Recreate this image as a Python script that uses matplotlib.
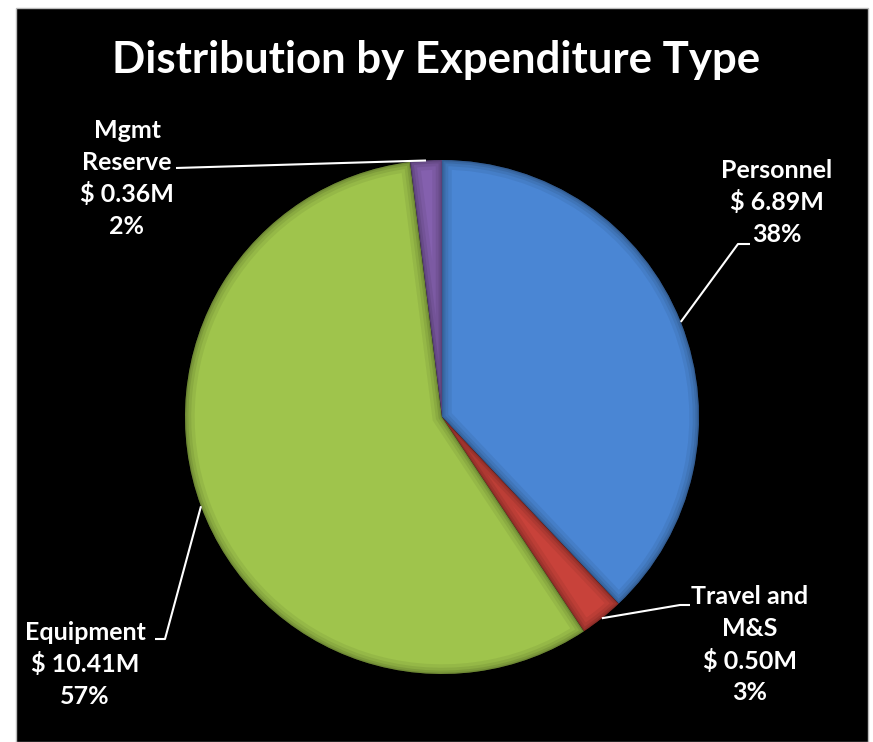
import numpy as np
import matplotlib.pyplot as plt
from matplotlib.patches import Rectangle, Wedge

# expenditure split, in $ millions
categories = ["Personnel", "Travel and\nM&S", "Equipment", "Mgmt\nReserve"]
amounts = [6.89, 0.50, 10.41, 0.36]
percents = ["38%", "3%", "57%", "2%"]
colors = ["#4a86d4", "#c8423a", "#9fc44c", "#8460ae"]

W, H = 873, 742
fig = plt.figure(figsize=(W / 100, H / 100), dpi=100, facecolor="white")
fig.patches.append(Rectangle((16 / W, 0), (868 - 16) / W, (H - 8) / H,
                             transform=fig.transFigure, facecolor="black",
                             edgecolor="#bbbbbb", linewidth=1, zorder=-5))

ax = fig.add_axes([0, 0, 1, 1])
ax.patch.set_visible(False)

def iy(y):
    # image-style y (from the top) to axes y
    return H - y

cx, cy, r = 442, iy(417), 257
wedges, _ = ax.pie(amounts, colors=colors, startangle=90, counterclock=False,
                   radius=r, center=(cx, cy), frame=True,
                   wedgeprops=dict(edgecolor="none", linewidth=0))
ax.set_xlim(0, W)
ax.set_ylim(0, H)
ax.set_aspect("equal")
ax.axis("off")

# soft bevel: dark strokes along each wedge outline, clipped to the wedge
for w in wedges:
    for lw, a in [(14, 0.06), (9, 0.07), (5, 0.09), (2, 0.12)]:
        rim = Wedge(w.center, w.r, w.theta1, w.theta2, facecolor="none",
                    edgecolor="black", linewidth=lw, alpha=a, zorder=3)
        ax.add_patch(rim)
        rim.set_clip_path(w)

font = "Lato"
fig.text(0.5, 1 - 60 / H, "Distribution by Expenditure Type", ha="center",
         va="center", color="white", fontsize=31.5, fontweight="bold",
         family=font)

# label block centre x, first line y, leader elbow (x, y) and end x
label_pos = [
    (777, 170, (738, 244), 750),
    (750, 597, (680, 605), 690),
    (85, 632, (165, 639), 155),
    (127, 130, (176, 168), 176),
]
line_h = 32

for w, cat, amt, pct, (lx, ly, elbow, ex) in zip(wedges, categories, amounts,
                                                 percents, label_pos):
    lines = cat.split("\n") + [f"$ {amt:.2f}M", pct]
    for i, t in enumerate(lines):
        ax.text(lx, iy(ly + i * line_h), t, ha="center", va="center",
                color="white", fontsize=18, fontweight="bold", family=font)
    mid = np.deg2rad((w.theta1 + w.theta2) / 2)
    px, py = cx + r * np.cos(mid), cy + r * np.sin(mid)
    ax.plot([px, elbow[0], ex], [py, iy(elbow[1]), iy(elbow[1])],
            color="white", lw=1.5, solid_capstyle="butt", zorder=4)

fig.savefig("out.png", dpi=100, facecolor="white")
